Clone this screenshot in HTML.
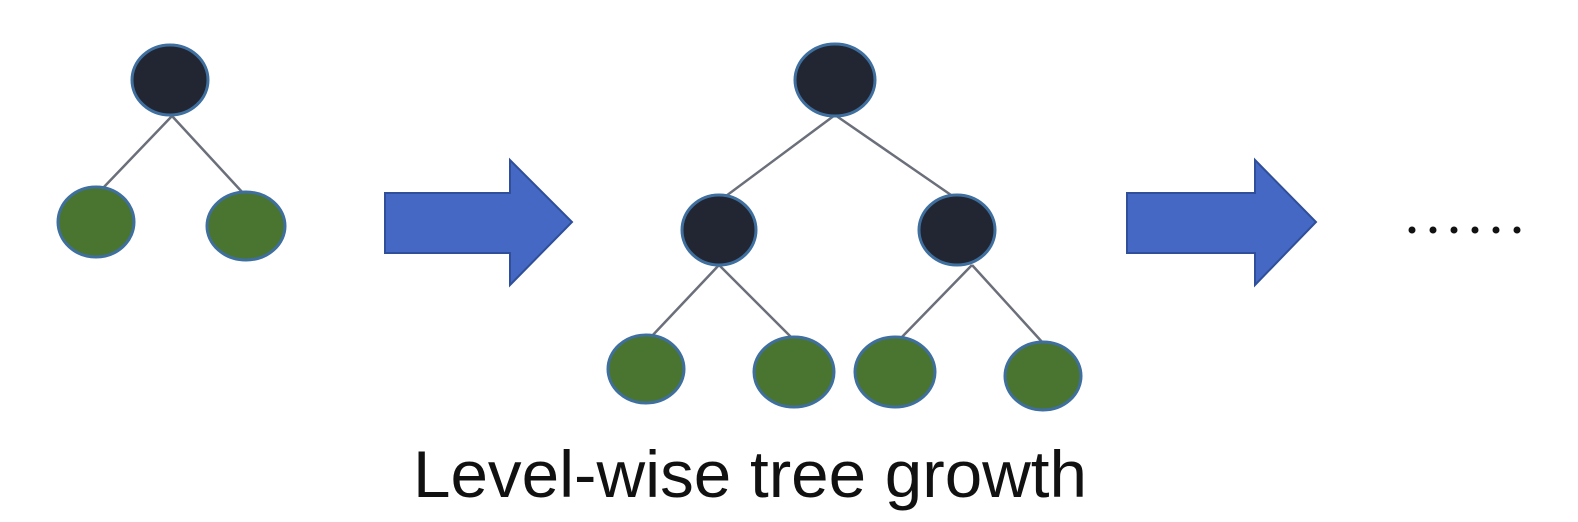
<!DOCTYPE html>
<html><head><meta charset="utf-8"><style>html,body{margin:0;padding:0;background:#fff;}svg{display:block}</style></head>
<body>
<svg width="1578" height="522" viewBox="0 0 1578 522" xmlns="http://www.w3.org/2000/svg">
<g stroke="#6b6f7a" stroke-width="2.5">
<line x1="172" y1="116" x2="103" y2="188"/>
<line x1="172" y1="116" x2="243" y2="193"/>
<line x1="835" y1="115" x2="726" y2="196"/>
<line x1="835" y1="115" x2="951" y2="195"/>
<line x1="719" y1="265" x2="651" y2="337"/>
<line x1="719" y1="265" x2="793" y2="339"/>
<line x1="972" y1="265" x2="900" y2="339"/>
<line x1="972" y1="265" x2="1043" y2="343"/>
</g>
<g stroke="#3f6f9f" stroke-width="3">
<ellipse cx="170" cy="80" rx="38" ry="35" fill="#222632"/>
<ellipse cx="96" cy="222" rx="38" ry="35" fill="#4a7530"/>
<ellipse cx="246" cy="226" rx="39" ry="34" fill="#4a7530"/>
<ellipse cx="835" cy="80" rx="40" ry="36" fill="#222632"/>
<ellipse cx="719" cy="230" rx="37" ry="35" fill="#222632"/>
<ellipse cx="957" cy="230" rx="38" ry="35" fill="#222632"/>
<ellipse cx="646" cy="369" rx="38" ry="34" fill="#4a7530"/>
<ellipse cx="794" cy="372" rx="40" ry="35" fill="#4a7530"/>
<ellipse cx="895" cy="372" rx="40" ry="35" fill="#4a7530"/>
<ellipse cx="1043" cy="376" rx="38" ry="34" fill="#4a7530"/>
</g>
<g fill="#4468c4" stroke="#2f4f9a" stroke-width="2">
<polygon points="385,193 510,193 510,160 572,222 510,285 510,253 385,253"/>
<polygon points="1127,193 1255,193 1255,160 1316,222 1255,285 1255,253 1127,253"/>
</g>
<g fill="#111">
<circle cx="1412" cy="230" r="3.5"/><circle cx="1433" cy="230" r="3.5"/><circle cx="1454" cy="230" r="3.5"/>
<circle cx="1475" cy="230" r="3.5"/><circle cx="1496" cy="230" r="3.5"/><circle cx="1517" cy="230" r="3.5"/>
</g>
<text x="413" y="497" font-family="Liberation Sans, sans-serif" font-size="66" fill="#111" textLength="674" lengthAdjust="spacingAndGlyphs">Level-wise tree growth</text>
</svg>
</body></html>
